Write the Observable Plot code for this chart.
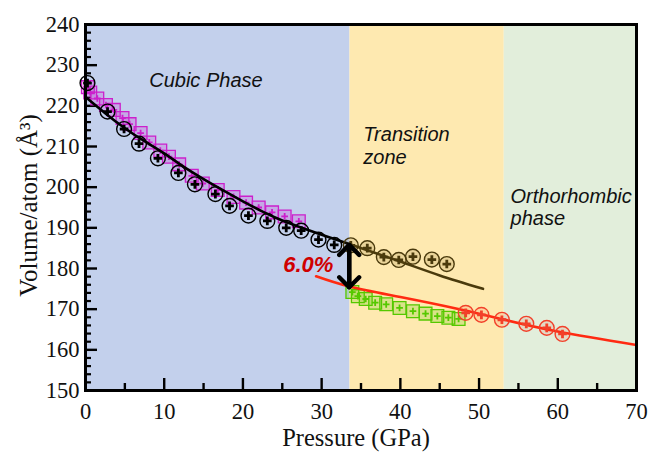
<!DOCTYPE html>
<html>
<head>
<meta charset="utf-8">
<script src="https://cdn.jsdelivr.net/npm/d3@7"></script>
<script src="https://cdn.jsdelivr.net/npm/@observablehq/plot@0.6"></script>
<style>
  html, body { margin: 0; padding: 0; background: #fff; }
  #chart { width: 650px; height: 453px; }
</style>
</head>
<body>
<div id="chart"></div>
<script>
// ---- data ----
const phaseNames = ["Cubic Phase", "Transition zone", "Orthorhombic phase"];
const phaseBounds = [0, 33.6, 53.2, 70];

// cubic, experiment 1 (black circles)
const cubicCircP = [0.25, 2.8, 4.9, 6.8, 9.2, 11.8, 13.9, 16.5, 18.3, 20.7, 23.1, 25.5, 27.4, 29.6, 31.6];
const cubicCircV = [225.6, 218.6, 214.3, 210.7, 207.1, 203.5, 200.7, 198.3, 195.4, 193.0, 191.7, 190.0, 189.3, 187.1, 185.8];

// cubic, experiment 2 (magenta squares)
const cubicSqP = [0.3, 0.6, 1.5, 2.6, 3.6, 4.7, 5.6, 7.0, 8.1, 9.5, 10.6, 11.9, 13.5, 14.9, 16.8, 18.8, 20.4, 22.0, 23.7, 25.3, 27.1];
const cubicSqV = [224.6, 223.3, 221.8, 220.2, 219.0, 217.0, 215.5, 213.3, 211.0, 209.0, 207.5, 205.6, 202.8, 200.9, 199.3, 197.6, 196.2, 195.0, 193.8, 192.8, 191.6];

// transition zone, upper branch (brown circles)
const transCircP = [33.7, 35.8, 37.9, 39.8, 41.6, 44.0, 45.9];
const transCircV = [185.7, 185.0, 182.8, 182.1, 182.9, 182.2, 181.1];

// transition zone, lower branch (green squares)
const transSqP = [33.9, 34.6, 35.6, 36.8, 38.2, 39.9, 41.6, 43.2, 44.7, 46.1, 47.4];
const transSqV = [174.2, 173.2, 172.5, 171.6, 171.2, 170.3, 169.5, 168.9, 168.3, 167.9, 167.6];

// orthorhombic (red circles)
const orthoP = [48.3, 50.3, 52.9, 56.0, 58.6, 60.6];
const orthoV = [169.1, 168.6, 167.4, 166.4, 165.4, 163.9];

// fitted curves
const cubicFitP = [0, 2.5, 5, 7.5, 10, 12.5, 15, 17.5, 20, 22.5, 25, 27.5, 30, 33.5];
const cubicFitV = [222.2, 218.2, 214.5, 211.3, 208.3, 205.0, 202.0, 199.2, 196.5, 194.0, 191.8, 190.0, 188.3, 186.0];
const cubicExtP = [33.5, 40, 45, 50.5];
const cubicExtV = [186.0, 181.7, 178.3, 175.0];
const orthoFitP = [29.3, 33.5, 40, 47.5, 53, 60, 70];
const orthoFitV = [178.1, 175.6, 173.0, 170.0, 167.5, 164.5, 161.2];

// volume collapse annotation
const gapLabel = "6.0%";
const gapLabelP = 28.3, gapLabelV = 180.9;
const gapArrowP = 33.5;
const gapArrowV = [175.4, 185.8];

// axes
const xMajor = [0, 10, 20, 30, 40, 50, 60, 70];
const xMinor = [5, 15, 25, 35, 45, 55, 65];
const yMajor = [150, 160, 170, 180, 190, 200, 210, 220, 230, 240];
const yMinor = d3.range(152, 240, 2).filter(v => v % 10 !== 0);
const xTitle = "Pressure (GPa)";
const yTitle = "Volume/atom (Å³)";

// ---- build tables ----
const zip = (a, b) => a.map((x, i) => ({x, y: b[i]}));
const phases = phaseNames.map((name, i) => ({name, x1: phaseBounds[i], x2: phaseBounds[i + 1]}));
const phaseFill = ["#c3d0ec", "#fee9b0", "#e2eedb"];

const W = 650, H = 453, mL = 85, mR = 14, mT = 24, mB = 63;
const plotW = W - mL - mR, plotH = H - mT - mB;

const serif = "Liberation Serif, Times New Roman, serif";
const sans = "Liberation Sans, Arial, sans-serif";

const circleMarks = (data, color, fill) => [
  Plot.dot(data, {x: "x", y: "y", r: 7.4, stroke: color, strokeWidth: 1.4, fill: fill}),
  Plot.dot(data, {x: "x", y: "y", symbol: "plus", r: 2.9, stroke: color, strokeWidth: 2.8})
];
const squareMarks = (data, color, fill) => [
  Plot.dot(data, {x: "x", y: "y", symbol: "square", r: 7.2, stroke: color, strokeWidth: 1.3, fill: fill}),
  Plot.dot(data, {x: "x", y: "y", symbol: "plus", r: 2.3, stroke: color, strokeWidth: 1.8})
];

const chart = Plot.plot({
  width: W, height: H,
  marginLeft: mL, marginRight: mR, marginTop: mT, marginBottom: mB,
  x: {domain: [0, 70], axis: null},
  y: {domain: [150, 240], axis: null},
  style: {background: "#fff"},
  marks: [
    Plot.rect(phases, {x1: "x1", x2: "x2", fill: (d, i) => phaseFill[i]}),
    // inward ticks
    Plot.tickX(xMajor, {x: d => d, insetTop: plotH - 12, stroke: "#000", strokeWidth: 2.4}),
    Plot.tickX(xMinor, {x: d => d, insetTop: plotH - 7, stroke: "#000", strokeWidth: 2.4}),
    Plot.tickY(yMajor, {y: d => d, insetRight: plotW - 12, stroke: "#000", strokeWidth: 2.4}),
    Plot.tickY(yMinor, {y: d => d, insetRight: plotW - 6, stroke: "#000", strokeWidth: 2.2}),
    // tick labels
    Plot.axisX(xMajor, {tickSize: 0, tickPadding: 13, fontSize: 22.5, fontFamily: serif, fill: "#111", label: null}),
    Plot.axisY(yMajor, {tickSize: 0, tickPadding: 6, fontSize: 22.5, fontFamily: serif, fill: "#111", label: null}),
    // squares
    ...squareMarks(zip(cubicSqP, cubicSqV), "#cc1fcc", "rgba(204,31,204,0.22)"),
    ...squareMarks(zip(transSqP, transSqV), "#55c800", "rgba(85,200,0,0.22)"),
    // fit lines
    Plot.line(zip(cubicFitP, cubicFitV), {x: "x", y: "y", stroke: "#000", strokeWidth: 2.6, curve: "natural"}),
    Plot.line(zip(cubicExtP, cubicExtV), {x: "x", y: "y", stroke: "#4a3a0c", strokeWidth: 2.6, curve: "natural"}),
    Plot.line(zip(orthoFitP, orthoFitV), {x: "x", y: "y", stroke: "#ff2a12", strokeWidth: 2.6, curve: "natural"}),
    // circles
    ...circleMarks(zip(cubicCircP, cubicCircV), "#000", "none"),
    ...circleMarks(zip(transCircP, transCircV), "#4a3a0c", "rgba(120,95,30,0.15)"),
    ...circleMarks(zip(orthoP, orthoV), "#f2402a", "rgba(242,64,42,0.12)"),
    // double arrow
    Plot.arrow([0], {x1: () => gapArrowP, y1: () => gapArrowV[0], x2: () => gapArrowP, y2: () => gapArrowV[1],
      stroke: "#000", strokeWidth: 4.4, headLength: 12, headAngle: 90}),
    Plot.arrow([0], {x1: () => gapArrowP, y1: () => gapArrowV[1], x2: () => gapArrowP, y2: () => gapArrowV[0],
      stroke: "#000", strokeWidth: 4.4, headLength: 12, headAngle: 90}),
    Plot.text([gapLabel], {x: () => gapLabelP, y: () => gapLabelV, text: d => d, fontSize: 22, fontWeight: "bold",
      fontStyle: "italic", fontFamily: sans, fill: "#d00000"}),
    // phase labels
    Plot.text(["Cubic Phase"], {x: () => 15.3, y: () => 226.2, text: d => d, fontSize: 20, fontStyle: "italic", fontFamily: sans, fill: "#111"}),
    Plot.text(["Transition\nzone"], {x: () => 35.3, y: () => 210.4, text: d => d, textAnchor: "start", lineHeight: 1.15,
      fontSize: 20, fontStyle: "italic", fontFamily: sans, fill: "#111"}),
    Plot.text(["Orthorhombic\nphase"], {x: () => 54.0, y: () => 195.1, text: d => d, textAnchor: "start", lineHeight: 1.1,
      fontSize: 20, fontStyle: "italic", fontFamily: sans, fill: "#111"}),
    // axis titles
    Plot.text([xTitle], {frameAnchor: "bottom", textAnchor: "middle", lineAnchor: "middle", dx: -5, dy: 48, text: d => d,
      fontSize: 24.5, fontFamily: serif, fill: "#111"}),
    Plot.text([yTitle], {frameAnchor: "left", textAnchor: "middle", lineAnchor: "middle", dx: -57, dy: -2, rotate: -90, text: d => d,
      fontSize: 25, fontFamily: serif, fill: "#111"}),
    Plot.frame({stroke: "#000", strokeWidth: 3})
  ]
});
document.getElementById("chart").appendChild(chart);
</script>
</body>
</html>
